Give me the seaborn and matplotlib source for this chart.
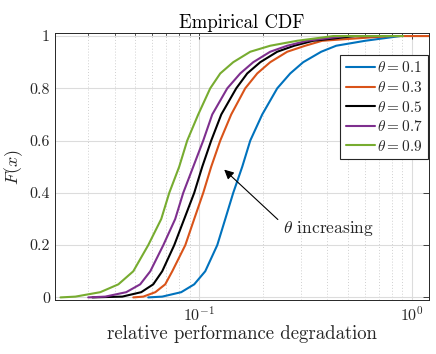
import numpy as np
import pandas as pd
import matplotlib
matplotlib.use("Agg")
import matplotlib.pyplot as plt
import matplotlib.ticker as mticker
import seaborn as sns

# ---- data ----
F_levels = [0.0, 0.003, 0.02, 0.05, 0.1, 0.2, 0.3, 0.4, 0.5, 0.6, 0.7, 0.8,
            0.857, 0.9, 0.94, 0.963, 0.982, 1.0, 1.0]
x_theta01 = [0.0576, 0.0670, 0.0823, 0.0947, 0.1067, 0.1215, 0.1325, 0.1444,
             0.1592, 0.1736, 0.1976, 0.2324, 0.2675, 0.3078, 0.3739, 0.4397,
             0.6017, 0.8781, 0.8781]
x_theta03 = [0.0490, 0.0546, 0.0622, 0.0692, 0.0747, 0.0860, 0.0947, 0.1044,
             0.1138, 0.1255, 0.1413, 0.1644, 0.1872, 0.2154, 0.2589, 0.3145,
             0.3780, 0.7882, 1.353]
x_theta05 = [0.0315, 0.0435, 0.0534, 0.0608, 0.0670, 0.0763, 0.0850, 0.0947,
             0.1033, 0.1138, 0.1269, 0.1492, 0.1680, 0.1934, 0.2324, 0.2793,
             0.3429, 0.5401, 0.7470]
x_theta07 = [0.0301, 0.0362, 0.0454, 0.0528, 0.0589, 0.0678, 0.0771, 0.0841,
             0.0937, 0.1044, 0.1151, 0.1354, 0.1558, 0.1793, 0.2154, 0.2589,
             0.3214, 0.4847, 0.7076]
x_theta09 = [0.0223, 0.0262, 0.0343, 0.0417, 0.0490, 0.0576, 0.0663, 0.0723,
             0.0805, 0.0878, 0.0989, 0.1126, 0.1255, 0.1444, 0.1736, 0.2154,
             0.2884, 0.4257, 0.907]
series_labels = [r"$\theta = 0.1$", r"$\theta = 0.3$", r"$\theta = 0.5$",
                 r"$\theta = 0.7$", r"$\theta = 0.9$"]
series_x = [x_theta01, x_theta03, x_theta05, x_theta07, x_theta09]
colors = ["#0072BD", "#D95319", "#000000", "#7E2F8E", "#77AC30"]
y_ticks = [0, 0.2, 0.4, 0.6, 0.8, 1]
y_tick_labels = ["0", "0.2", "0.4", "0.6", "0.8", "1"]
x_ticks = [0.1, 1.0]
x_tick_labels = [r"$10^{-1}$", r"$10^{0}$"]

rows = []
for lab, xs in zip(series_labels, series_x):
    for i, (xv, fv) in enumerate(zip(xs, F_levels)):
        rows.append({"x": xv, "F": fv, "series": lab, "order": i})
df = pd.DataFrame(rows)

sns.set_style("white")
plt.rcParams["font.family"] = ["cmr10", "DejaVu Serif"]
plt.rcParams["mathtext.fontset"] = "cm"
plt.rcParams["axes.unicode_minus"] = False
plt.rcParams["axes.formatter.use_mathtext"] = True

fig = plt.figure(figsize=(4.36, 3.54), dpi=100)
ax = fig.add_axes([0.126, 0.1525, 0.858, 0.753])

sns.lineplot(data=df, x="x", y="F", hue="series", palette=colors,
             sort=False, estimator=None, units="series", linewidth=1.5,
             ax=ax, legend=True)

ax.set_xscale("log")
ax.set_xlim(0.021, 1.2)
ax.set_ylim(-0.01, 1.01)

ax.set_yticks(y_ticks)
ax.yaxis.set_major_formatter(mticker.FixedFormatter(y_tick_labels))
ax.xaxis.set_major_locator(mticker.FixedLocator(x_ticks))
ax.xaxis.set_major_formatter(mticker.FixedFormatter(x_tick_labels))
ax.xaxis.set_minor_locator(mticker.LogLocator(base=10, subs=np.arange(2, 10)))
ax.xaxis.set_minor_formatter(mticker.NullFormatter())

ax.grid(True, which="major", color="#dcdcdc", linewidth=0.8, linestyle="-")
ax.grid(True, which="minor", axis="x", color="#d0d0d0", linewidth=0.7,
        linestyle=(0, (1, 2)))
ax.set_axisbelow(True)

ax.tick_params(which="both", direction="in", top=True, right=True,
               color="#262626", labelsize=11.5, labelcolor="#262626")
ax.tick_params(which="major", length=4, width=0.6)
ax.tick_params(which="minor", length=2.5, width=0.5)
for s in ax.spines.values():
    s.set_color("#262626")
    s.set_linewidth(0.7)
    s.set_visible(True)

ax.set_title("Empirical CDF", fontsize=13.5, color="#000000", pad=4)
ax.set_xlabel("relative performance degradation", fontsize=13.5, labelpad=1)
ax.set_ylabel(r"$F(x)$", fontsize=13, labelpad=3)

leg = ax.legend(loc="upper right", bbox_to_anchor=(0.997, 0.919),
                borderaxespad=0, fontsize=11, frameon=True, fancybox=False,
                handlelength=1.9, handletextpad=0.15, borderpad=0.35,
                labelspacing=0.3)
leg.get_frame().set_edgecolor("#262626")
leg.get_frame().set_linewidth(0.8)
leg.get_frame().set_alpha(1.0)

# annotation arrow
ax.annotate("", xy=(0.131, 0.489), xytext=(0.234, 0.298),
            arrowprops=dict(arrowstyle="-|>", color="black", lw=0.8,
                            mutation_scale=14, shrinkA=0, shrinkB=0))
ax.text(0.405, 0.263, r"$\theta$ increasing", fontsize=12.5,
        ha="center", va="center")

fig.savefig("out.png", dpi=100)
